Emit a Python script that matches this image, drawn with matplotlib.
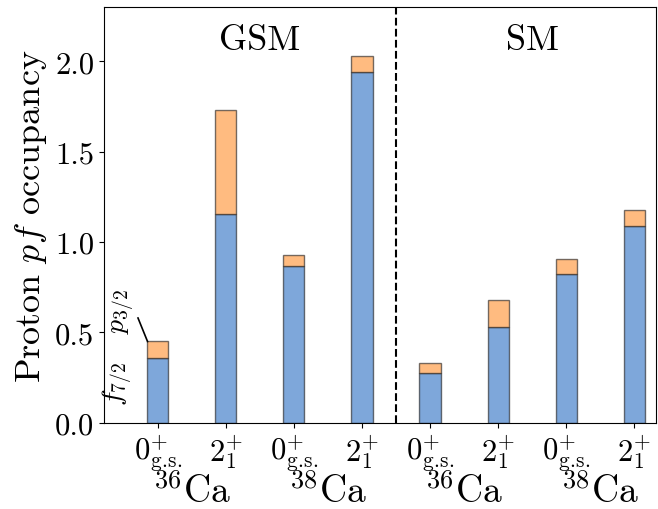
import matplotlib
matplotlib.use("Agg")
import matplotlib.pyplot as plt
import numpy as np

plt.rcParams['font.family'] = 'serif'
plt.rcParams['font.serif'] = ['cmr10']
plt.rcParams['mathtext.fontset'] = 'cm'
plt.rcParams['axes.formatter.use_mathtext'] = True

states = [r'$0^{+}_{\rm g.\!s.}$', r'$2^{+}_{1}$'] * 4
nuclei = [r'$^{36}$Ca', r'$^{38}$Ca', r'$^{36}$Ca', r'$^{38}$Ca']
models = ['GSM', 'SM']
f72 = [0.36, 1.155, 0.867, 1.94, 0.276, 0.53, 0.823, 1.09]
p32 = [0.09, 0.575, 0.063, 0.09, 0.054, 0.15, 0.083, 0.087]

fig = plt.figure(figsize=(6.58, 5.10), dpi=100)
ax = fig.add_axes([0.158, 0.169, 0.839, 0.815])
x = np.arange(len(f72))
w = 0.31
blue = '#7ea7da'
orange = '#ffbb80'
edge = (0.1, 0.1, 0.1, 0.6)
ax.bar(x, f72, w, color=blue, edgecolor=edge, linewidth=1.0)
ax.bar(x, p32, w, bottom=f72, color=orange, edgecolor=edge, linewidth=1.0)
ax.axvline(3.5, color='black', linestyle='--', linewidth=1.5)

ax.set_xlim(-0.79, 7.32)
ax.set_ylim(0, 2.3)
ax.set_yticks([0.0, 0.5, 1.0, 1.5, 2.0])
ax.set_yticklabels(['0.0', '0.5', '1.0', '1.5', '2.0'])
ax.set_xticks(x)
ax.set_xticklabels(states)
ax.tick_params(axis='both', labelsize=22)
ax.set_ylabel(r'Proton $pf$ occupancy', fontsize=26)

for i, nuc in enumerate(nuclei):
    ax.text(2 * i + 0.5, -0.44, nuc, ha='center', va='baseline', fontsize=27,
            transform=ax.transData)

ax.text(1.5, 2.12, models[0], ha='center', va='center', fontsize=26)
ax.text(5.5, 2.12, models[1], ha='center', va='center', fontsize=26)

ax.text(-0.6, 0.22, r'$f_{7/2}$', rotation=90, ha='center', va='center', fontsize=20)
ax.text(-0.52, 0.62, r'$p_{3/2}$', rotation=90, ha='center', va='center', fontsize=20)
ax.plot([-0.29, -0.15], [0.58, 0.45], color='black', linewidth=1.2)

fig.savefig('out.png', dpi=100)
